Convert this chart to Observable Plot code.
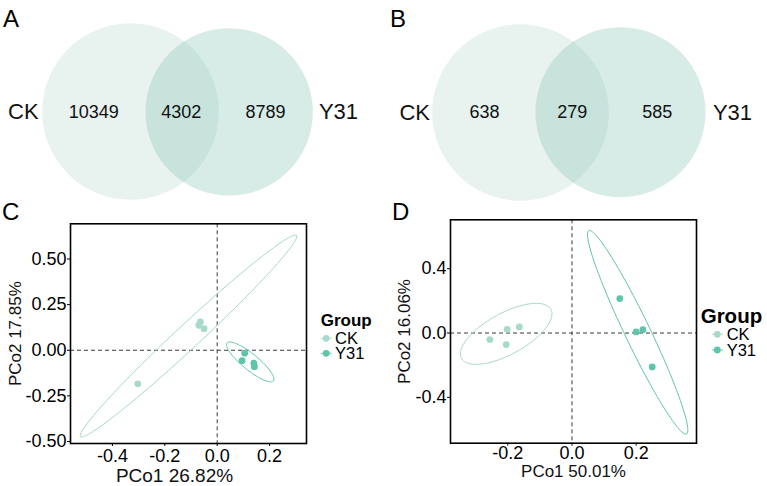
<!DOCTYPE html>
<html>
<head>
<meta charset="utf-8">
<script src="https://cdn.jsdelivr.net/npm/d3@7"></script>
<script src="https://cdn.jsdelivr.net/npm/@observablehq/plot@0.6"></script>
<style>
  body { margin: 0; background: #fff; }
  #fig { position: relative; width: 767px; height: 486px; overflow: hidden;
         font-family: "Liberation Sans", Arial, sans-serif; background: #fff; }
  .panel { position: absolute; }
  .panel svg { overflow: visible; }
</style>
</head>
<body>
<div id="fig"></div>
<script>
// ---- data -------------------------------------------------------------
const groups = ["CK", "Y31"];

// Venn counts: [CK only, shared, Y31 only]
const vennCountsA = [10349, 4302, 8789];
const vennCountsB = [638, 279, 585];

// PCoA scores, panel C (PCo1 26.82%, PCo2 17.85%)
const pcoC_CK_x  = [-0.303, -0.064, -0.070, -0.050];
const pcoC_CK_y  = [-0.184, 0.156, 0.137, 0.118];
const pcoC_Y31_x = [0.105, 0.095, 0.140, 0.142];
const pcoC_Y31_y = [-0.016, -0.057, -0.071, -0.090];

// PCoA scores, panel D (PCo1 50.01%, PCo2 16.06%)
const pcoD_CK_x  = [-0.256, -0.202, -0.164, -0.205];
const pcoD_CK_y  = [-0.041, 0.023, 0.038, -0.072];
const pcoD_Y31_x = [0.149, 0.200, 0.221, 0.250];
const pcoD_Y31_y = [0.214, 0.007, 0.021, -0.211];

// Confidence ellipses: centre x, centre y, semi-axis A (dx, dy), semi-axis B (dx, dy)
const ellC_CK  = [-0.1095, 0.078, 0.4122, 0.5509, 0.0312, -0.0480];
const ellC_Y31 = [0.1263, -0.064, 0.0885, -0.1039, -0.0193, -0.0339];
const ellD_CK  = [-0.205, -0.005, 0.1393, 0.1524, 0.0308, -0.1126];
const ellD_Y31 = [0.2047, 0.0044, 0.1523, -0.6325, 0.0355, 0.034];

const groupColors = ["#a7d9cc", "#5ec5ab"];
const FONT = "Liberation Sans, Arial, sans-serif";

// ---- helpers ----------------------------------------------------------
const fig = d3.select("#fig");

function place(node, left, top) {
  fig.append("div").attr("class", "panel")
    .style("left", left + "px").style("top", top + "px")
    .node().appendChild(node);
}

function toPoints(group, xs, ys) {
  return xs.map((x, i) => ({group, x, y: ys[i]}));
}

function ellipsePath(group, e) {
  const [cx, cy, ax, ay, bx, by] = e;
  const n = 120;
  return d3.range(n).map(i => {
    const t = (i / n) * 2 * Math.PI;
    return {group, x: cx + ax * Math.cos(t) + bx * Math.sin(t),
                   y: cy + ay * Math.cos(t) + by * Math.sin(t)};
  });
}

// ---- Venn panels ------------------------------------------------------
function venn(counts, L) {
  const numbers = counts.map((c, i) => ({x: L.tx[i + 1], text: String(c)}));
  const names = [{x: L.tx[0], text: groups[0]}, {x: L.tx[4], text: groups[1]}];
  return Plot.plot({
    width: L.w, height: 205, margin: 0,
    x: {domain: [0, L.w], range: [0, L.w], axis: null},
    y: {domain: [0, 205], range: [0, 205], axis: null},
    style: {background: "transparent", fontFamily: FONT, color: "#000"},
    marks: [
      Plot.dot([L.left], {x: "cx", y: "cy", r: L.left.r, fill: "#e8f2ef", stroke: "none"}),
      Plot.dot([L.right], {x: "cx", y: "cy", r: L.right.r, fill: "#7bc0b0", fillOpacity: 0.3, stroke: "none"}),
      Plot.text(numbers, {x: "x", y: () => L.ty, text: "text", fontSize: 18, fill: "#111"}),
      Plot.text(names, {x: "x", y: () => L.ty, text: "text", fontSize: 22, fill: "#111"})
    ]
  });
}

place(venn(vennCountsA, {
  w: 380, ty: 111.5,
  left: {cx: 130, cy: 111, r: 88.3},
  right: {cx: 228.7, cy: 111.4, r: 83.7},
  tx: [22.8, 93.3, 180.8, 265, 338]
}), 0, 0);

place(venn(vennCountsB, {
  w: 387, ty: 112,
  left: {cx: 140, cy: 112, r: 88.3},
  right: {cx: 240, cy: 111.7, r: 85},
  tx: [34.2, 104, 191.7, 276.7, 352]
}), 380, 0);

// ---- PCoA panels ------------------------------------------------------
function pcoa(o) {
  const pts = [...toPoints(groups[0], o.ckX, o.ckY), ...toPoints(groups[1], o.yX, o.yY)];
  const ell = [...ellipsePath(groups[0], o.ellCK), ...ellipsePath(groups[1], o.ellY)];
  const plot = Plot.plot({
    width: o.width, height: 286,
    marginLeft: 70, marginRight: o.marginRight, marginTop: o.marginTop, marginBottom: o.marginBottom,
    style: {background: "transparent", fontFamily: FONT, fontSize: o.tickFont + "px", color: "#000"},
    x: {domain: o.xDomain, ticks: o.xTicks, tickFormat: d => d.toFixed(1), label: null,
        tickSize: 3, tickPadding: o.xPad},
    y: {domain: o.yDomain, ticks: o.yTicks, tickFormat: d => d.toFixed(o.yDigits), label: null,
        tickSize: 3, tickPadding: 1},
    color: {domain: groups, range: groupColors},
    marks: [
      Plot.ruleX([0], {stroke: "#3a3a3a", strokeDasharray: "4,3", strokeWidth: 1}),
      Plot.ruleY([0], {stroke: "#3a3a3a", strokeDasharray: "4,3", strokeWidth: 1}),
      Plot.line(ell, {x: "x", y: "y", z: "group", stroke: "group", strokeWidth: 1, curve: "linear-closed"}),
      Plot.dot(pts, {x: "x", y: "y", fill: "group", r: 3.4}),
      Plot.frame({stroke: "#000", strokeWidth: 1.6}),
      Plot.text([o.xTitle], {text: d => d, frameAnchor: "bottom", dx: o.xTitleDx, dy: o.xTitleDy,
        fontSize: o.xTitleFont, lineAnchor: "middle", textAnchor: "middle", fill: "#111"}),
      Plot.text([o.yTitle], {text: d => d, frameAnchor: "left", dx: o.yTitleDx, rotate: -90,
        fontSize: o.yTitleFont, lineAnchor: "middle", textAnchor: "middle", fill: "#111"})
    ]
  });

  // legend: key line with point, as drawn for point + path layers
  const color = plot.scale("color");
  const svg = d3.select(plot);
  const lg = o.legend;
  const g0 = svg.append("g").attr("text-anchor", "start");
  g0.append("text").attr("x", lg.x).attr("y", lg.titleBaseline)
    .attr("font-family", FONT).attr("font-size", lg.titleFont).attr("font-weight", "bold")
    .attr("fill", "#000").text("Group");
  groups.forEach((g, i) => {
    const c = color.apply(g);
    const cy = lg.rows[i];
    g0.append("line").attr("x1", lg.keyX - 5.5).attr("x2", lg.keyX + 5.5)
      .attr("y1", cy).attr("y2", cy).attr("stroke", c).attr("stroke-width", 1);
    g0.append("circle").attr("cx", lg.keyX).attr("cy", cy).attr("r", 3.4).attr("fill", c);
    g0.append("text").attr("x", lg.textX).attr("y", cy).attr("dy", "0.35em")
      .attr("font-family", FONT).attr("font-size", 16.5).attr("fill", "#000").text(g);
  });
  return plot;
}

place(pcoa({
  width: 380, marginRight: 74, marginTop: 23.3, marginBottom: 43,
  xDomain: [-0.56, 0.341], xTicks: [-0.4, -0.2, 0, 0.2], xPad: 3,
  yDomain: [-0.511, 0.693], yTicks: [-0.5, -0.25, 0, 0.25, 0.5], yDigits: 2,
  tickFont: 18, xTitleFont: 19, yTitleFont: 17,
  ckX: pcoC_CK_x, ckY: pcoC_CK_y, yX: pcoC_Y31_x, yY: pcoC_Y31_y,
  ellCK: ellC_CK, ellY: ellC_Y31,
  xTitle: "PCo1 26.82%", xTitleDx: -14, xTitleDy: 32.5,
  yTitle: "PCo2 17.85%", yTitleDx: -55,
  legend: {x: 320.7, titleBaseline: 125.5, titleFont: 17, rows: [138.3, 153.3], keyX: 326.2, textX: 335}
}), 0, 200);

place(pcoa({
  width: 387, marginRight: 71, marginTop: 19.3, marginBottom: 43.3,
  xDomain: [-0.3785, 0.388], xTicks: [-0.2, 0, 0.2], xPad: 0,
  yDomain: [-0.685, 0.704], yTicks: [-0.4, 0, 0.4], yDigits: 1,
  tickFont: 18, xTitleFont: 17, yTitleFont: 17,
  ckX: pcoD_CK_x, ckY: pcoD_CK_y, yX: pcoD_Y31_x, yY: pcoD_Y31_y,
  ellCK: ellD_CK, ellY: ellD_Y31,
  xTitle: "PCo1 50.01%", xTitleDx: 0, xTitleDy: 28.5,
  yTitle: "PCo2 16.06%", yTitleDx: -45.5,
  legend: {x: 320.7, titleBaseline: 123.3, titleFont: 20.5, rows: [134.3, 150], keyX: 337.3, textX: 346.7}
}), 380, 200);

// ---- panel tags -------------------------------------------------------
const tags = fig.append("svg").attr("width", 767).attr("height", 486)
  .style("position", "absolute").style("left", 0).style("top", 0).style("pointer-events", "none");
[["A", 3, 27], ["B", 390, 26.5], ["C", 2, 220], ["D", 392, 220]].forEach(([t, x, y]) => {
  tags.append("text").attr("x", x).attr("y", y).attr("font-family", FONT)
    .attr("font-size", 24).attr("fill", "#000").text(t);
});
</script>
</body>
</html>
